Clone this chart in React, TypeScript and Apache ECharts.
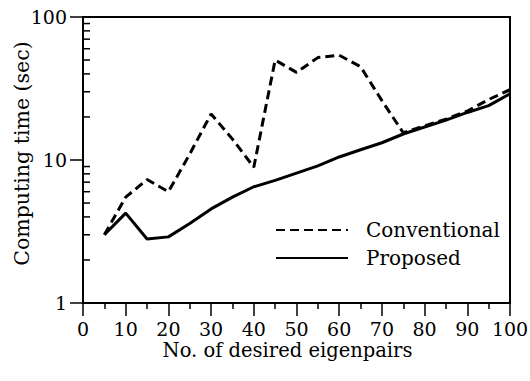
import React, { useEffect, useRef } from "react";
import * as echarts from "echarts";

const xValues = [5, 10, 15, 20, 25, 30, 35, 40, 45, 50, 55, 60, 65, 70, 75, 80, 85, 90, 95, 100];
const conventional = [3.0, 5.5, 7.3, 6.0, 11, 21, 14, 8.9, 50, 41, 52, 54, 45, 26, 15.5, 17.3, 19.3, 22, 26.5, 31];
const proposed = [3.0, 4.25, 2.8, 2.9, 3.6, 4.55, 5.5, 6.5, 7.2, 8.1, 9.1, 10.5, 11.8, 13.2, 15.2, 17, 19, 21.5, 24, 29];
const yMinorTicks = [2, 3, 4, 5, 6, 7, 8, 9, 20, 30, 40, 50, 60, 70, 80, 90];

const FONT = "DejaVu Serif";

export default function App() {
  const ref = useRef<HTMLDivElement>(null);
  useEffect(() => {
    if (!ref.current) return;
    const chart = echarts.init(ref.current, null, { renderer: "svg" });
    chart.setOption({
      animation: false,
      backgroundColor: "#fff",
      textStyle: { fontFamily: FONT, color: "#000" },
      grid: {
        left: 83,
        right: 20,
        top: 17,
        bottom: 78,
        show: true,
        borderColor: "#000",
        borderWidth: 2,
        containLabel: false,
        outerBoundsMode: "none",
      },
      legend: {
        data: ["Conventional", "Proposed"],
        orient: "vertical",
        left: 275,
        top: 220,
        padding: 0,
        itemWidth: 72,
        itemHeight: 20,
        itemGap: 8,
        itemStyle: { opacity: 0 },
        textStyle: { fontFamily: FONT, fontSize: 20, color: "#000", padding: [0, 0, 0, 13] },
      },
      xAxis: {
        type: "value",
        min: 0,
        max: 100,
        interval: 10,
        name: "No. of desired eigenpairs",
        nameLocation: "middle",
        nameGap: 37,
        nameMoveOverlap: false,
        nameTextStyle: { fontFamily: FONT, fontSize: 19.5, color: "#000", padding: [0, 18, 0, 0] },
        axisLine: { lineStyle: { color: "#000", width: 2 } },
        axisTick: { show: true, inside: false, length: 13, lineStyle: { color: "#000", width: 1.5 } },
        minorTick: { show: true, splitNumber: 2, length: 6, lineStyle: { color: "#000", width: 1.5 } },
        axisLabel: { fontFamily: FONT, fontSize: 19, color: "#000", margin: 16 },
        splitLine: { show: false },
      },
      yAxis: {
        type: "log",
        logBase: 10,
        min: 1,
        max: 100,
        name: "Computing time (sec)",
        nameLocation: "middle",
        nameGap: 51,
        nameMoveOverlap: false,
        nameTextStyle: { fontFamily: FONT, fontSize: 20.5, color: "#000", padding: [0, 0, 0, 13] },
        axisLine: { lineStyle: { color: "#000", width: 2 } },
        axisTick: { show: true, inside: false, length: 13, lineStyle: { color: "#000", width: 1.5 } },
        axisLabel: { fontFamily: FONT, fontSize: 19, color: "#000", margin: 16 },
        splitLine: { show: false },
      },
      series: [
        {
          name: "Conventional",
          type: "line",
          data: xValues.map((x, i) => [x, conventional[i]]),
          symbol: "none",
          lineStyle: { color: "#000", width: 3, type: [9, 5] },
          itemStyle: { color: "#000" },
        },
        {
          name: "Proposed",
          type: "line",
          data: xValues.map((x, i) => [x, proposed[i]]),
          symbol: "none",
          lineStyle: { color: "#000", width: 3, type: "solid" },
          itemStyle: { color: "#000" },
        },
        {
          name: "yMinor",
          type: "custom",
          silent: true,
          clip: false,
          data: yMinorTicks.map((v) => [0, v]),
          renderItem: (params: any, api: any) => {
            const p = api.coord([0, api.value(1)]);
            return {
              type: "line",
              shape: { x1: p[0], y1: p[1], x2: p[0] + 7, y2: p[1] },
              style: { stroke: "#000", lineWidth: 1.5 },
            };
          },
        },
      ],
    });
    return () => chart.dispose();
  }, []);
  return <div ref={ref} style={{ position: "fixed", left: 0, top: 0, width: 530, height: 381 }} />;
}
